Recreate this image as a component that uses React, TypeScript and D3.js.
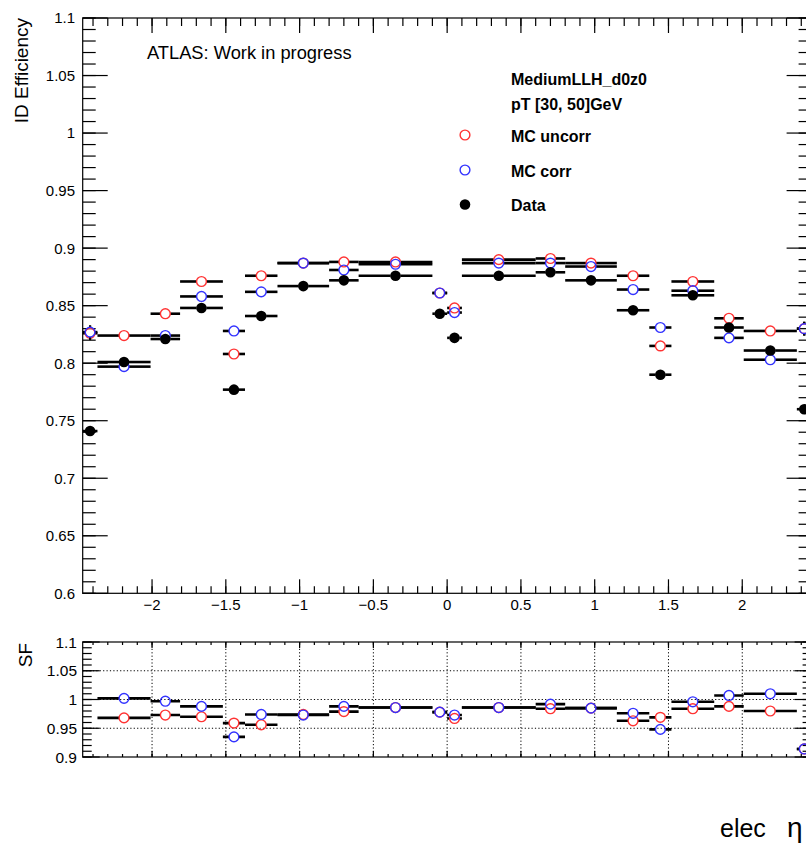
import React from "react";
import * as d3 from "d3";

// ---- data ----
const etaEdges = [-2.47, -2.37, -2.01, -1.81, -1.52, -1.37, -1.15, -0.8, -0.6, -0.1, 0, 0.1, 0.6, 0.8, 1.15, 1.37, 1.52, 1.81, 2.01, 2.37, 2.47];

const effMcUncorr = [0.826, 0.824, 0.843, 0.871, 0.808, 0.876, 0.887, 0.888, 0.888, 0.861, 0.848, 0.890, 0.891, 0.887, 0.876, 0.815, 0.871, 0.839, 0.828, 0.830];
const effMcCorr = [0.827, 0.797, 0.824, 0.858, 0.828, 0.862, 0.887, 0.881, 0.886, 0.861, 0.844, 0.887, 0.887, 0.884, 0.864, 0.831, 0.863, 0.822, 0.803, 0.830];
const effData = [0.741, 0.801, 0.821, 0.848, 0.777, 0.841, 0.867, 0.872, 0.876, 0.843, 0.822, 0.876, 0.879, 0.872, 0.846, 0.790, 0.859, 0.831, 0.811, 0.760];

const errMcUncorr = [0.006, 0.002, 0.002, 0.002, 0.002, 0.002, 0.001, 0.002, 0.001, 0.002, 0.002, 0.001, 0.002, 0.001, 0.002, 0.002, 0.002, 0.002, 0.002, 0.006];
const errMcCorr = [0.006, 0.002, 0.002, 0.002, 0.002, 0.002, 0.001, 0.002, 0.001, 0.002, 0.002, 0.001, 0.002, 0.001, 0.002, 0.002, 0.002, 0.002, 0.002, 0.006];
const errData = [0.004, 0.002, 0.002, 0.002, 0.002, 0.002, 0.001, 0.002, 0.001, 0.002, 0.002, 0.001, 0.002, 0.001, 0.002, 0.002, 0.002, 0.002, 0.002, 0.004];

const sfUncorr = [0.897, 0.968, 0.973, 0.970, 0.959, 0.956, 0.974, 0.979, 0.986, 0.978, 0.967, 0.986, 0.984, 0.985, 0.963, 0.969, 0.984, 0.988, 0.980, 0.914];
const sfCorr = [0.896, 1.002, 0.997, 0.988, 0.935, 0.974, 0.973, 0.988, 0.986, 0.978, 0.973, 0.986, 0.992, 0.985, 0.976, 0.948, 0.996, 1.007, 1.010, 0.914];
const sfErr = [0.008, 0.003, 0.003, 0.003, 0.003, 0.003, 0.002, 0.003, 0.002, 0.003, 0.003, 0.002, 0.003, 0.002, 0.003, 0.003, 0.003, 0.003, 0.003, 0.008];

const xMajorTicks = [-2, -1.5, -1, -0.5, 0, 0.5, 1, 1.5, 2];
const xTickLabels = ["\u22122", "\u22121.5", "\u22121", "\u22120.5", "0", "0.5", "1", "1.5", "2"];
const effMajorTicks = [0.6, 0.65, 0.7, 0.75, 0.8, 0.85, 0.9, 0.95, 1, 1.05, 1.1];
const effTickLabels = ["0.6", "0.65", "0.7", "0.75", "0.8", "0.85", "0.9", "0.95", "1", "1.05", "1.1"];
const sfMajorTicks = [0.9, 0.95, 1, 1.05, 1.1];
const sfTickLabels = ["0.9", "0.95", "1", "1.05", "1.1"];
const sfGridY = [0.95, 1, 1.05];

const legendLabels = ["MC uncorr", "MC corr", "Data"];
const legendColors = ["#ff3333", "#3333ff", "#000000"];

const FONT = "'Liberation Sans', Arial, Helvetica, sans-serif";

function range(a: number, b: number, step: number) {
  const out: number[] = [];
  const n = Math.round((b - a) / step);
  for (let i = 0; i <= n; i++) out.push(+(a + i * step).toFixed(4));
  return out;
}

export default function App() {
  const L = 82.7;
  const R = 811.6;
  const x = d3.scaleLinear().domain([etaEdges[0], etaEdges[etaEdges.length - 1]]).range([L, R]);
  const yT = d3.scaleLinear().domain([0.6, 1.1]).range([593.3, 18]);
  const yB = d3.scaleLinear().domain([0.9, 1.1]).range([757, 642]);

  const xMinor = range(-2.4, 2.4, 0.1);
  const effMinor = range(0.6, 1.1, 0.01);
  const sfMinor = range(0.9, 1.1, 0.01);

  const r = 4.9;

  const series = (
    vals: number[],
    errs: number[],
    y: d3.ScaleLinear<number, number>,
    color: string,
    filled: boolean,
    key: string
  ) => {
    const [dMin, dMax] = y.domain();
    return (
      <g key={key}>
        {vals.map((v, i) => {
          if (v < dMin || v > dMax) return null; // out-of-range points are not drawn
          const lo = etaEdges[i];
          const hi = etaEdges[i + 1];
          const cx = x((lo + hi) / 2);
          const cy = y(v);
          const x0 = x(lo);
          const x1 = x(hi);
          const yU = y(v + errs[i]);
          const yD = y(v - errs[i]);
          return (
            <g key={i}>
              {cx - r > x0 && <line x1={x0} x2={cx - r} y1={cy} y2={cy} stroke="#000" strokeWidth={2.6} />}
              {x1 > cx + r && <line x1={cx + r} x2={x1} y1={cy} y2={cy} stroke="#000" strokeWidth={2.6} />}
              {yU < cy - r && <line x1={cx} x2={cx} y1={cy - r} y2={yU} stroke="#000" strokeWidth={2.2} />}
              {yD > cy + r && <line x1={cx} x2={cx} y1={cy + r} y2={yD} stroke="#000" strokeWidth={2.2} />}
              {filled ? (
                <circle cx={cx} cy={cy} r={r + 0.4} fill={color} />
              ) : (
                <circle cx={cx} cy={cy} r={r} fill="none" stroke={color} strokeWidth={1.4} />
              )}
            </g>
          );
        })}
      </g>
    );
  };

  const topB = 593.3;
  const topT = 18;
  const botT = 642;
  const botB = 757;

  return (
    <svg
      width={806}
      height={845}
      style={{ position: "absolute", left: 0, top: 0, background: "#fff" }}
      fontFamily={FONT}
    >
      <rect x={0} y={0} width={806} height={845} fill="#fff" />
      <defs>
        <clipPath id="sfclip">
          <rect x={L} y={botT - 6} width={R - L} height={botB - botT + 6} />
        </clipPath>
      </defs>

      {/* ---------- TOP PANEL ---------- */}
      <g stroke="#000" strokeWidth={1.2}>
        {effMinor.map((t) => (
          <g key={"em" + t}>
            <line x1={L} x2={L + 13} y1={yT(t)} y2={yT(t)} />
            <line x1={R} x2={R - 13} y1={yT(t)} y2={yT(t)} />
          </g>
        ))}
        {effMajorTicks.map((t) => (
          <g key={"eM" + t}>
            <line x1={L} x2={L + 25} y1={yT(t)} y2={yT(t)} />
            <line x1={R} x2={R - 25} y1={yT(t)} y2={yT(t)} />
          </g>
        ))}
        {xMinor.map((t) => (
          <g key={"xm" + t}>
            <line x1={x(t)} x2={x(t)} y1={topB} y2={topB - 7} />
            <line x1={x(t)} x2={x(t)} y1={topT} y2={topT + 8} />
          </g>
        ))}
        {xMajorTicks.map((t) => (
          <g key={"xM" + t}>
            <line x1={x(t)} x2={x(t)} y1={topB} y2={topB - 14} />
            <line x1={x(t)} x2={x(t)} y1={topT} y2={topT + 15} />
          </g>
        ))}
        <rect x={L} y={topT} width={R - L} height={topB - topT} fill="none" />
      </g>

      {effMajorTicks.map((t, i) => (
        <text key={"el" + t} x={75} y={yT(t)} dy="0.36em" textAnchor="end" fontSize={15} fill="#000">
          {effTickLabels[i]}
        </text>
      ))}
      {xMajorTicks.map((t, i) => (
        <text key={"xl" + t} x={x(t)} y={610} textAnchor="middle" fontSize={15} fill="#000">
          {xTickLabels[i]}
        </text>
      ))}

      <text transform="translate(28,18) rotate(-90)" textAnchor="end" fontSize={19} fill="#000">
        ID Efficiency
      </text>

      <text x={147} y={59} fontSize={18.3} fill="#000">
        ATLAS: Work in progress
      </text>

      {/* legend */}
      <text x={511} y={85} fontSize={16} fontWeight="bold" fill="#000">
        MediumLLH_d0z0
      </text>
      <text x={511} y={110} fontSize={16} fontWeight="bold" fill="#000">
        pT [30, 50]GeV
      </text>
      {legendLabels.map((lab, i) => {
        const ly = [135, 170, 204.5][i];
        return (
          <g key={lab}>
            {i < 2 ? (
              <circle cx={465} cy={ly} r={r} fill="none" stroke={legendColors[i]} strokeWidth={1.4} />
            ) : (
              <circle cx={465} cy={ly} r={r + 0.4} fill={legendColors[i]} />
            )}
            <text x={511} y={ly + 6.5} fontSize={16} fontWeight="bold" fill="#000">
              {lab}
            </text>
          </g>
        );
      })}

      {series(effMcUncorr, errMcUncorr, yT, legendColors[0], false, "u")}
      {series(effMcCorr, errMcCorr, yT, legendColors[1], false, "c")}
      {series(effData, errData, yT, legendColors[2], true, "d")}

      {/* ---------- BOTTOM PANEL ---------- */}
      <g stroke="#000" strokeWidth={1} strokeDasharray="1.2,2.2">
        {xMajorTicks.map((t) => (
          <line key={"gx" + t} x1={x(t)} x2={x(t)} y1={botT} y2={botB} />
        ))}
        {sfGridY.map((t) => (
          <line key={"gy" + t} x1={L} x2={R} y1={yB(t)} y2={yB(t)} />
        ))}
      </g>
      <g stroke="#000" strokeWidth={1.2}>
        {sfMinor.map((t) => (
          <g key={"sm" + t}>
            <line x1={L} x2={L + 9} y1={yB(t)} y2={yB(t)} />
            <line x1={R} x2={R - 9} y1={yB(t)} y2={yB(t)} />
          </g>
        ))}
        {sfMajorTicks.map((t) => (
          <g key={"sM" + t}>
            <line x1={L} x2={L + 17} y1={yB(t)} y2={yB(t)} />
            <line x1={R} x2={R - 17} y1={yB(t)} y2={yB(t)} />
          </g>
        ))}
        {xMinor.map((t) => (
          <g key={"bxm" + t}>
            <line x1={x(t)} x2={x(t)} y1={botB} y2={botB - 3} />
            <line x1={x(t)} x2={x(t)} y1={botT} y2={botT + 3} />
          </g>
        ))}
        {xMajorTicks.map((t) => (
          <g key={"bxM" + t}>
            <line x1={x(t)} x2={x(t)} y1={botB} y2={botB - 6} />
            <line x1={x(t)} x2={x(t)} y1={botT} y2={botT + 6} />
          </g>
        ))}
        <rect x={L} y={botT} width={R - L} height={botB - botT} fill="none" />
      </g>

      {sfMajorTicks.map((t, i) => (
        <text key={"sl" + t} x={77} y={yB(t)} dy="0.36em" textAnchor="end" fontSize={15.5} fill="#000">
          {sfTickLabels[i]}
        </text>
      ))}

      <text transform="translate(32,643) rotate(-90)" textAnchor="end" fontSize={19} fill="#000">
        SF
      </text>

      <g clipPath="url(#sfclip)">
        {series(sfUncorr, sfErr, yB, legendColors[0], false, "su")}
        {series(sfCorr, sfErr, yB, legendColors[1], false, "sc")}
      </g>

      <text x={720} y={836.5} fontSize={25} fill="#000">
        elec
      </text>
      <text x={787} y={836.5} fontSize={28} fill="#000">
        η
      </text>
    </svg>
  );
}
